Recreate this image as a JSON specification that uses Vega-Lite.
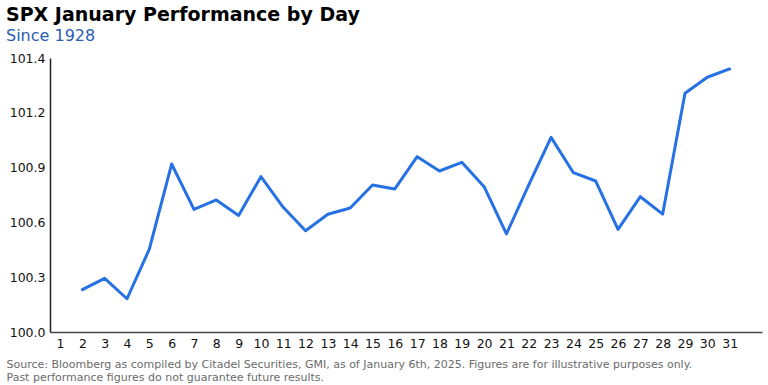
{
  "$schema": "https://vega.github.io/schema/vega-lite/v6.json",
  "width": 712,
  "height": 274,
  "autosize": {"type": "none"},
  "padding": {"left": 50, "top": 58, "right": 6, "bottom": 53},
  "background": "white",
  "title": {
    "text": "SPX January Performance by Day",
    "subtitle": "Since 1928",
    "anchor": "start",
    "frame": "group",
    "dx": -44,
    "font": "DejaVu Sans",
    "fontSize": 19,
    "fontWeight": "bold",
    "color": "#000000",
    "subtitleFont": "DejaVu Sans",
    "subtitleFontSize": 16,
    "subtitleColor": "#2a5db0",
    "subtitlePadding": 3,
    "offset": 8
  },
  "data": {
    "values": [
      {"day": 2, "value": 100.224},
      {"day": 3, "value": 100.284},
      {"day": 4, "value": 100.176},
      {"day": 5, "value": 100.438},
      {"day": 6, "value": 100.889},
      {"day": 7, "value": 100.649},
      {"day": 8, "value": 100.699},
      {"day": 9, "value": 100.617},
      {"day": 10, "value": 100.822},
      {"day": 11, "value": 100.660},
      {"day": 12, "value": 100.536},
      {"day": 13, "value": 100.623},
      {"day": 14, "value": 100.656},
      {"day": 15, "value": 100.778},
      {"day": 16, "value": 100.757},
      {"day": 17, "value": 100.928},
      {"day": 18, "value": 100.852},
      {"day": 19, "value": 100.898},
      {"day": 20, "value": 100.769},
      {"day": 21, "value": 100.519},
      {"day": 22, "value": 100.778},
      {"day": 23, "value": 101.030},
      {"day": 24, "value": 100.843},
      {"day": 25, "value": 100.799},
      {"day": 26, "value": 100.543},
      {"day": 27, "value": 100.716},
      {"day": 28, "value": 100.624},
      {"day": 29, "value": 101.263},
      {"day": 30, "value": 101.348},
      {"day": 31, "value": 101.392}
    ]
  },
  "mark": {"type": "line", "color": "#2671e3", "strokeWidth": 3, "strokeCap": "round", "strokeJoin": "round", "clip": false},
  "encoding": {
    "x": {
      "field": "day",
      "type": "quantitative",
      "scale": {"domain": [0.55, 32.45], "nice": false, "zero": false},
      "axis": {
        "values": [1,2,3,4,5,6,7,8,9,10,11,12,13,14,15,16,17,18,19,20,21,22,23,24,25,26,27,28,29,30,31],
        "format": "d",
        "grid": false,
        "ticks": false,
        "labelPadding": 5,
        "labelFont": "DejaVu Sans",
        "labelFontSize": 12.5,
        "labelColor": "#111111",
        "labelFlush": false,
        "labelOverlap": false,
        "domainColor": "#444444",
        "domainWidth": 1.5,
        "title": ["Source: Bloomberg as compiled by Citadel Securities, GMI, as of January 6th, 2025. Figures are for illustrative purposes only.", "Past performance figures do not guarantee future results."],
        "titleX": -44,
        "titleY": 26,
        "titleAlign": "left",
        "titleAnchor": "start",
        "titleBaseline": "top",
        "titleFont": "DejaVu Sans",
        "titleFontSize": 11,
        "titleFontWeight": "normal",
        "titleColor": "#6b6b6b",
        "titleLineHeight": 13.5
      }
    },
    "y": {
      "field": "value",
      "type": "quantitative",
      "scale": {"domain": [100, 101.45], "nice": false, "zero": false},
      "axis": {
        "values": [100, 100.29, 100.58, 100.87, 101.16, 101.45],
        "labelExpr": "datum.value > 101.4 ? '101.4' : format(datum.value, '.1f')",
        "grid": false,
        "ticks": false,
        "labelPadding": 5,
        "labelFont": "DejaVu Sans",
        "labelFontSize": 12.5,
        "labelColor": "#111111",
        "labelFlush": false,
        "labelOverlap": false,
        "domainColor": "#222222",
        "domainWidth": 1.5,
        "title": null
      }
    }
  },
  "config": {"view": {"stroke": null}}
}
